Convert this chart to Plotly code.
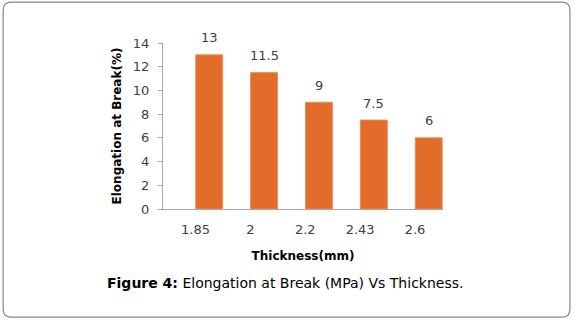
import plotly.graph_objects as go

categories = ["1.85", "2", "2.2", "2.43", "2.6"]
values = [13, 11.5, 9, 7.5, 6]
value_labels = ["13", "11.5", "9", "7.5", "6"]
y_ticks = [0, 2, 4, 6, 8, 10, 12, 14]

W, H = 585, 326
L, R, T, B = 162.7, 141.7, 43.3, 116.7
PW, PH = W - L - R, H - T - B

def px(x):
    return (x - L) / PW

def py(y):
    return (H - B - y) / PH

pos = list(range(len(categories)))
tick_pos = [p - 0.25 for p in pos]

FONT = "DejaVu Sans"

fig = go.Figure()
fig.add_trace(go.Bar(
    x=pos, y=values, width=0.49,
    marker=dict(color="#E26D2A", line=dict(color="#EE8A55", width=1)),
))
for p, v, t in zip(pos, values, value_labels):
    fig.add_annotation(x=p, y=v, text=t, showarrow=False, yanchor="middle",
                       yshift=17, font=dict(family=FONT, size=13, color="#404040"))

fig.update_layout(
    width=W, height=H,
    margin=dict(l=L, r=R, t=T, b=B, pad=0),
    paper_bgcolor="white", plot_bgcolor="white",
    showlegend=False,
)
fig.update_xaxes(
    range=[-0.842, 4.26], tickvals=tick_pos, ticktext=categories,
    showgrid=False, zeroline=False, showline=True, linecolor="#A6A6A6", linewidth=1,
    ticks="", ticklabelstandoff=8, tickfont=dict(family=FONT, size=13, color="#404040"),
    title=dict(text="<b>Thickness(mm)</b>", font=dict(family=FONT, size=12, color="#000000"), standoff=16),
)
fig.update_yaxes(
    range=[0, 14], tickvals=y_ticks,
    showgrid=False, zeroline=False, showline=True, linecolor="#A6A6A6", linewidth=1,
    ticks="outside", ticklen=4, tickcolor="#A6A6A6", ticklabelstandoff=6,
    tickfont=dict(family=FONT, size=13, color="#404040"),
    title=dict(text="<b>Elongation at Break(%)</b>", font=dict(family=FONT, size=12, color="#000000"), standoff=8),
)

# rounded border
x0, x1, y0, y1 = px(2.5), px(570.5), py(2.5), py(317.5)
rx, ry = 8 / PW, 8 / PH
path = (f"M {x0+rx} {y0} L {x1-rx} {y0} Q {x1} {y0} {x1} {y0-ry} "
        f"L {x1} {y1+ry} Q {x1} {y1} {x1-rx} {y1} "
        f"L {x0+rx} {y1} Q {x0} {y1} {x0} {y1+ry} "
        f"L {x0} {y0-ry} Q {x0} {y0} {x0+rx} {y0} Z")
fig.add_shape(type="path", path=path, xref="paper", yref="paper",
              line=dict(color="#868686", width=1.2))

fig.add_annotation(
    text="<b>Figure 4:</b> Elongation at Break (MPa) Vs Thickness.",
    xref="paper", yref="paper", x=px(285), y=py(283), showarrow=False,
    xanchor="center", yanchor="middle",
    font=dict(family=FONT, size=14, color="#000000"),
)

fig.write_html("out.html")
